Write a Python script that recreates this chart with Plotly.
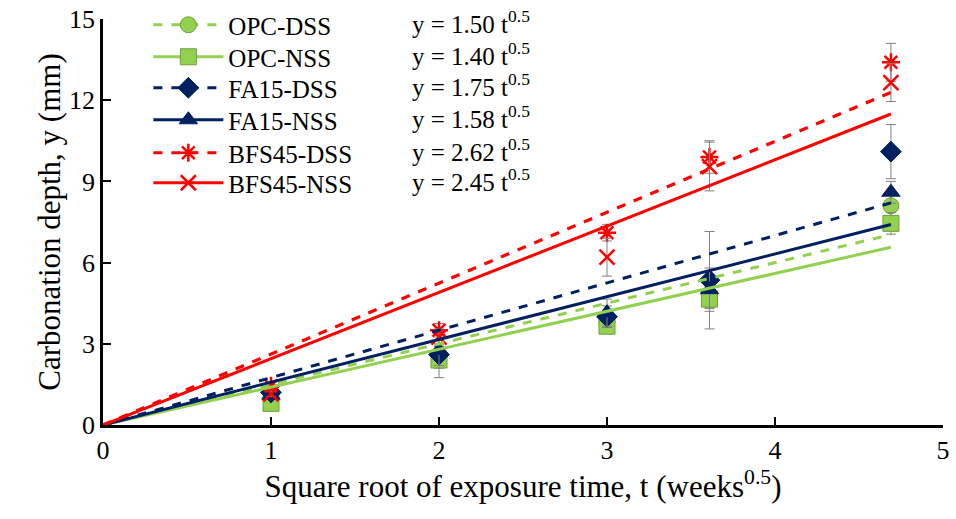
import plotly.graph_objects as go

# Square root of exposure time (weeks^0.5) at each measurement
t_obs = [1, 2, 3, 3.61, 4.69]
t_fit_end = 4.69

series_names = ["OPC-DSS", "OPC-NSS", "FA15-DSS", "FA15-NSS", "BFS45-DSS", "BFS45-NSS"]

# Measured carbonation depth (mm)
opc_dss = [0.95, 2.6, 3.8, 4.8, 8.1]
opc_nss = [0.8, 2.4, 3.65, 4.65, 7.45]
fa15_dss = [1.2, 2.6, 4.0, 5.35, 10.1]
fa15_nss = [1.1, 2.75, 4.15, 5.0, 8.6]
bfs45_dss = [1.45, 3.5, 7.1, 9.9, 13.4]
bfs45_nss = [1.15, 3.25, 6.2, 9.55, 12.65]

# Standard deviation of the measured depth (mm)
opc_dss_err = [0.1, 0.3, 0.3, 0.5, 0.4]
opc_nss_err = [0.1, 0.3, 0.25, 0.3, 0.4]
fa15_dss_err = [0.1, 0.4, 0.4, 1.8, 1.0]
fa15_nss_err = [0.1, 1.0, 0.5, 0.8, 0.4]
bfs45_dss_err = [0.15, 0.25, 0.3, 0.6, 0.7]
bfs45_nss_err = [0.1, 0.3, 0.7, 0.9, 0.7]

# Carbonation coefficient k in y = k t^0.5
k_fit = [1.50, 1.40, 1.75, 1.58, 2.62, 2.45]

x_ticks = [0, 1, 2, 3, 4, 5]
y_ticks = [0, 3, 6, 9, 12, 15]

depths = [opc_dss, opc_nss, fa15_dss, fa15_nss, bfs45_dss, bfs45_nss]
errors = [opc_dss_err, opc_nss_err, fa15_dss_err, fa15_nss_err, bfs45_dss_err, bfs45_nss_err]

GREEN = "#92D050"
NAVY = "#002060"
RED = "#FF0000"
styles = [
    dict(color=GREEN, dash="dash", symbol="circle", mline="#6FA038"),
    dict(color=GREEN, dash="solid", symbol="square", mline="#6FA038"),
    dict(color=NAVY, dash="dash", symbol="diamond", mline=NAVY),
    dict(color=NAVY, dash="solid", symbol="triangle-up", mline=NAVY),
    dict(color=RED, dash="dash", symbol="asterisk-open", mline=RED),
    dict(color=RED, dash="solid", symbol="x-thin-open", mline=RED),
]

FONT = "Liberation Serif"

# legend rows / equation rows (pixel centres from the top of the figure)
row_y = [25, 57, 88, 120, 153, 183]
plot_top, plot_bottom = 19, 425
row_paper = [(plot_bottom - py) / (plot_bottom - plot_top) for py in row_y]
legend_ids = ["legend", "legend2", "legend3", "legend4", "legend5", "legend6"]


def marker_style(st):
    open_sym = st["symbol"].endswith("open")
    return dict(symbol=st["symbol"], size=15 if open_sym else 16, color=st["color"],
                line=dict(color=st["mline"], width=2.5 if open_sym else 1))


fig = go.Figure()

# measured points with error bars
for name, y, e, st in zip(series_names, depths, errors, styles):
    fig.add_trace(go.Scatter(
        x=t_obs, y=y, mode="markers", name=name, legendgroup=name, showlegend=False,
        error_y=dict(type="data", array=e, visible=True, color="#808080", thickness=1, width=5),
        marker=marker_style(st),
    ))

# fitted lines y = k t^0.5; each legend entry shows line and marker together
for name, k, st, lid in zip(series_names, k_fit, styles, legend_ids):
    fig.add_trace(go.Scatter(
        x=[0, t_fit_end], y=[0, k * t_fit_end], mode="lines", name=name, legendgroup=name,
        showlegend=False, line=dict(color=st["color"], width=3, dash=st["dash"]),
    ))
    fig.add_trace(go.Scatter(
        x=[-1], y=[-1], mode="lines+markers", name=name, legendgroup=name, showlegend=True,
        legend=lid, line=dict(color=st["color"], width=3, dash=st["dash"]),
        marker=marker_style(st), hoverinfo="skip",
    ))

# fitted equations next to the legend
for k, yp in zip(k_fit, row_paper):
    fig.add_annotation(
        x=1.83, y=yp + 3 / (plot_bottom - plot_top), xref="x", yref="paper",
        text=f"y = {k:.2f} t<sup>0.5</sup>", showarrow=False, xanchor="left", yanchor="middle",
        font=dict(size=25),
    )

legend_layout = {}
for lid, yp in zip(legend_ids, row_paper):
    legend_layout[lid] = dict(x=0.054, y=yp, xanchor="left", yanchor="middle",
                              bgcolor="rgba(0,0,0,0)", font=dict(size=25), itemwidth=70)

fig.update_layout(
    width=956, height=519,
    margin=dict(l=103, r=13, t=19, b=94, autoexpand=False),
    paper_bgcolor="white", plot_bgcolor="white",
    font=dict(family=FONT, size=26, color="black"),
    showlegend=True,
    xaxis=dict(range=[0, 5], tickvals=x_ticks, ticks="inside", ticklen=8, tickwidth=2,
               tickcolor="black", showline=True, linecolor="black", linewidth=2.5,
               showgrid=False, zeroline=False,
               title=dict(text="Square root of exposure time, t (weeks<sup>0.5</sup>)",
                          standoff=4)),
    yaxis=dict(range=[0, 15], tickvals=y_ticks, ticks="inside", ticklen=8, tickwidth=2,
               tickcolor="black", showline=True, linecolor="black", linewidth=2.5,
               showgrid=False, zeroline=False, ticksuffix="\u00a0\u00a0\u00a0",
               title=dict(text="Carbonation depth, y (mm)", standoff=0)),
    **legend_layout,
)

fig.write_html("out.html")
